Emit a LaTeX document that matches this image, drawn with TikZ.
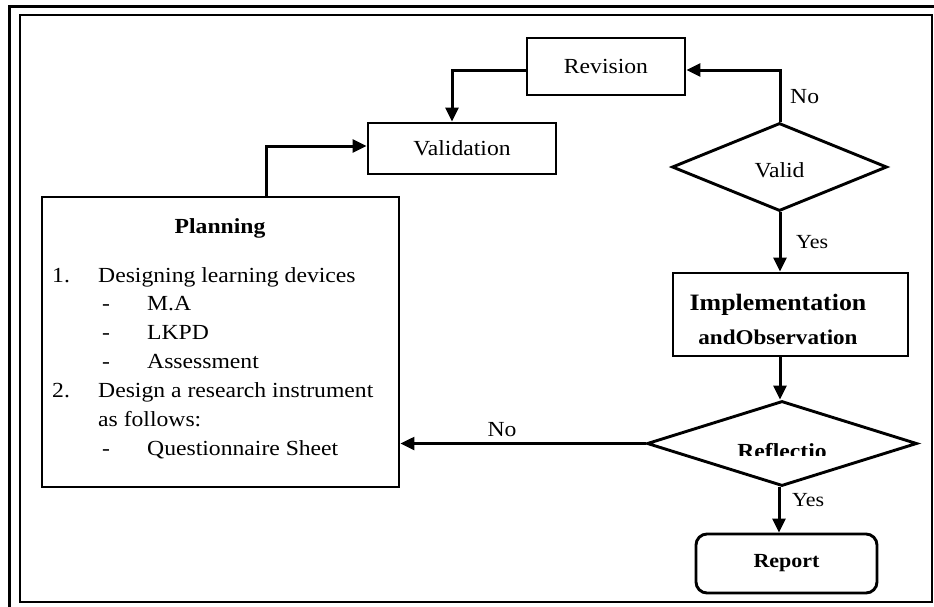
\documentclass[tikz,border=0pt]{standalone}
\usepackage{fontspec}
\setmainfont[FakeStretch=1.1]{Liberation Serif}
\usetikzlibrary{arrows.meta,shapes.geometric}
\tikzset{
  box/.style={draw,line width=2.9pt,rectangle,inner sep=0pt,font=\fontsize{21.5}{25}\selectfont},
  dia/.style={draw,line width=2.9pt,diamond,inner sep=0pt,font=\fontsize{21.5}{25}\selectfont},
  arr/.style={line width=3pt,-{Triangle[length=14pt,width=13pt]}},
  lbl/.style={inner sep=0pt,font=\fontsize{21.5}{25}\selectfont},
  ptxt/.style={inner sep=0pt,anchor=base west,font=\fontsize{21.5}{25}\selectfont}
}
\begin{document}
\begin{tikzpicture}[x=1pt,y=-1pt]
\useasboundingbox (0,0) rectangle (934,606);
\clip (0,0) rectangle (934,606);
% frame
\draw[line width=3pt] (9,640) -- (9,6) -- (960,6);
\draw[line width=2.7pt] (20,15) rectangle (932,602);
% nodes
\node[box,minimum width=158pt,minimum height=57pt] (rev) at (606,66.5) {Revision};
\node[box,minimum width=188pt,minimum height=51pt] (val) at (462,148.5) {Validation};
\node[dia,minimum width=215pt,minimum height=88pt] (valid) at (779.5,167) {};
\node[lbl] (validt) at (779.5,170) {Valid};
\node[box,minimum width=235pt,minimum height=83pt] (impl) at (790.5,314.5) {};
\node[lbl,font=\fontsize{23.5}{27}\selectfont\bfseries,anchor=base] (impl1) at (778,310) {Implementation};
\node[lbl,font=\fontsize{21}{25}\selectfont\bfseries,anchor=base] (impl2) at (778,344) {andObservation};
\node[dia,minimum width=270pt,minimum height=85pt] (refl) at (782,443.5) {};
\begin{scope}
\clip (700,425) rectangle (870,455);
\node[lbl,font=\fontsize{21.5}{25}\selectfont\bfseries,anchor=base] (reflt) at (782,458) {Reflectio};
\end{scope}
\node[box,rounded corners=11pt,minimum width=181pt,minimum height=59pt,font=\fontsize{20}{24}\selectfont\bfseries] (rep) at (786.5,563.5) {Report};
\node[box,minimum width=357pt,minimum height=290pt] (plan) at (220.5,342) {};
% planning text
\node[ptxt,anchor=base,font=\fontsize{21.5}{25}\selectfont\bfseries] (ph) at (220,233) {Planning};
\node[ptxt] (n1) at (52,282) {1.};
\node[ptxt] (t1) at (98,282) {Designing learning devices};
\node[ptxt] (d1) at (102,310.5) {-};
\node[ptxt] (s1) at (147,310.5) {M.A};
\node[ptxt] (d2) at (102,339) {-};
\node[ptxt] (s2) at (147,339) {LKPD};
\node[ptxt] (d3) at (102,368) {-};
\node[ptxt] (s3) at (147,368) {Assessment};
\node[ptxt] (n2) at (52,397) {2.};
\node[ptxt] (t2) at (98,397) {Design a research instrument};
\node[ptxt] (t3) at (98,426) {as follows:};
\node[ptxt] (d4) at (102,455) {-};
\node[ptxt] (s4) at (147,455) {Questionnaire Sheet};
% labels
\node[lbl,anchor=west] (no1) at (790,97) {No};
\node[lbl,anchor=west,font=\fontsize{20}{24}\selectfont] (yes1) at (796,242) {Yes};
\node[lbl,anchor=west,font=\fontsize{20}{24}\selectfont] (yes2) at (792,500) {Yes};
\node[lbl] (no2) at (502,430) {No};
% connectors
\draw[arr] ([yshift=-3.5pt]rev.west) -| ([xshift=-10pt]val.north);
\draw[arr] ([xshift=0.5pt]valid.north) |- ([yshift=-3.5pt]rev.east);
\draw[arr] ([xshift=0.5pt]valid.south) -- ([xshift=0.5pt]valid.south |- impl.north);
\draw[arr] ([xshift=-2pt]refl.north |- impl.south) -- ([xshift=-2pt]refl.north);
\draw[arr] ([xshift=-3pt]refl.south) -- ([xshift=-3pt]refl.south |- rep.north);
\draw[arr,line width=2.4pt] (refl.west) -- (refl.west -| plan.east);
\draw[arr] ([xshift=45.5pt]plan.north) |- ([yshift=2.5pt]val.west);
\end{tikzpicture}
\end{document}
